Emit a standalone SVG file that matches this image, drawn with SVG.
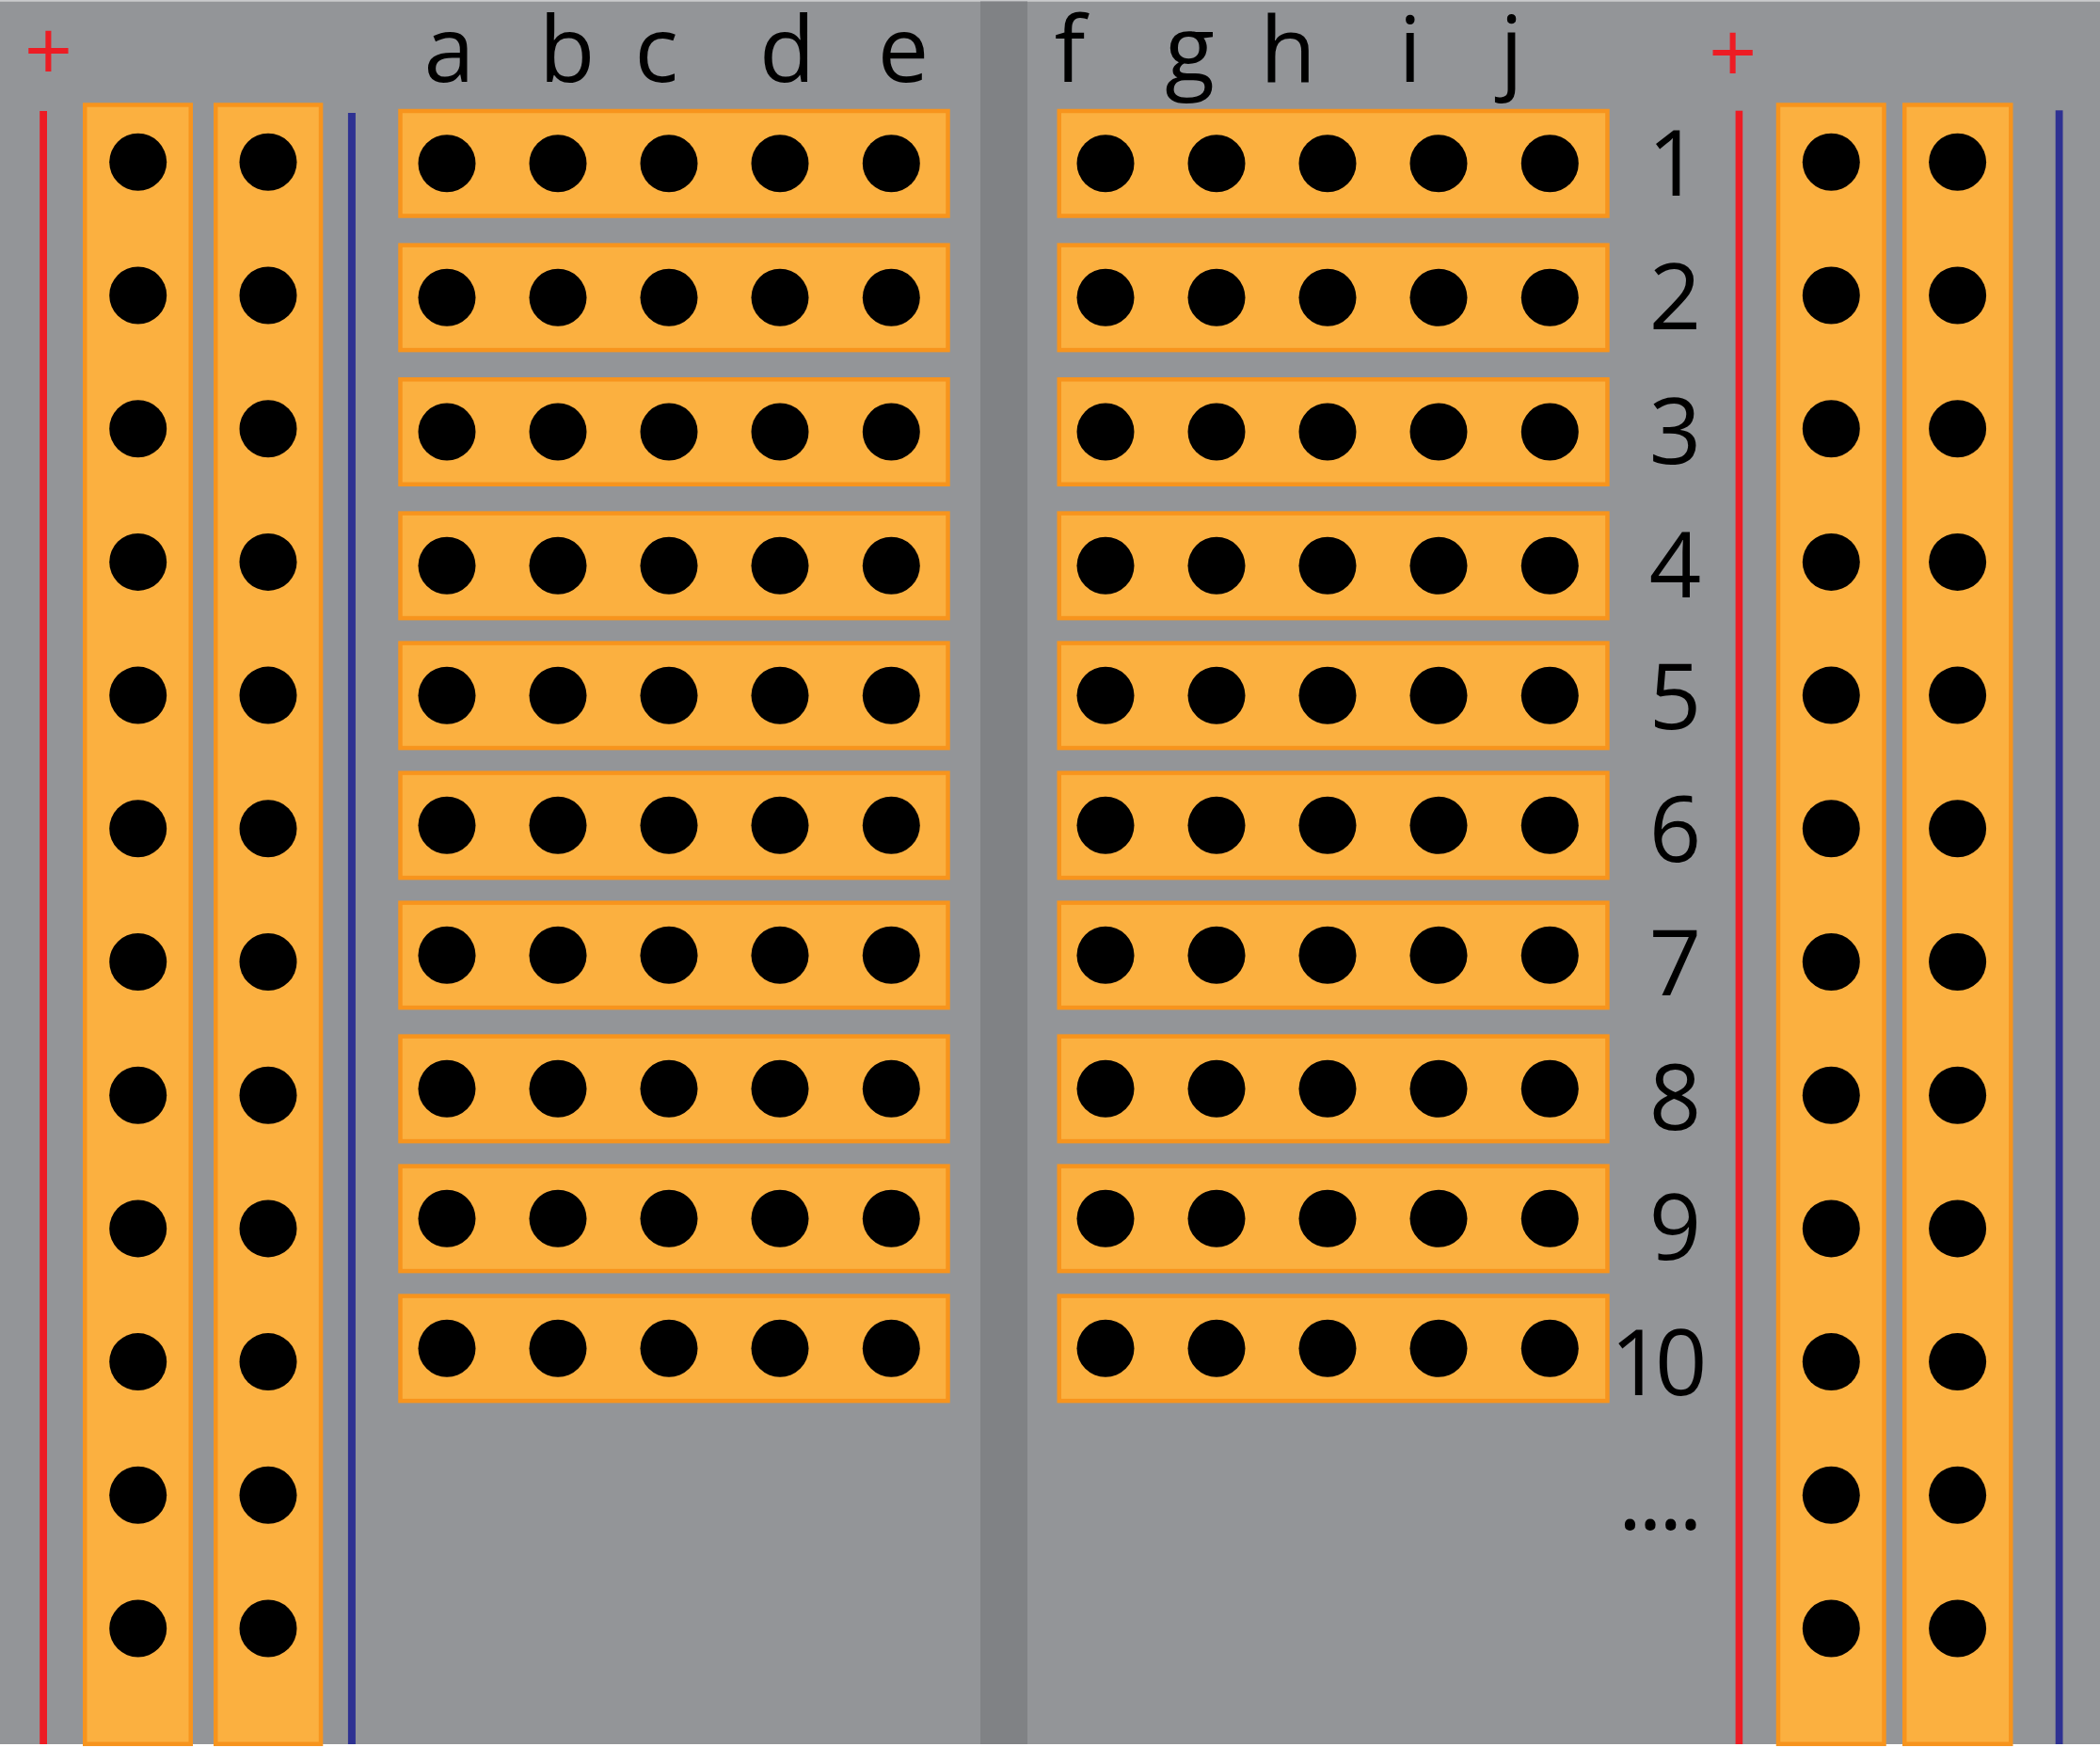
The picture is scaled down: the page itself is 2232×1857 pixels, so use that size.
<svg xmlns="http://www.w3.org/2000/svg" xmlns:xlink="http://www.w3.org/1999/xlink" width="2232" height="1857" viewBox="0 0 2232 1857">
<style>
.strip{fill:#FBB040;stroke:#F7941D;stroke-width:4.5}
.hole{fill:#000}
.lbl{font-family:"Open Sans","Noto Sans","Liberation Sans",sans-serif;font-size:97px;fill:#000;text-anchor:middle}
.plus{font-family:"Open Sans","Noto Sans","Liberation Sans",sans-serif;font-size:90px;fill:#ED1C24;text-anchor:middle}
</style>
<defs>
<circle id="h" r="30.5" class="hole"/>
<g id="row5">
<use xlink:href="#h" x="0"/><use xlink:href="#h" x="118"/><use xlink:href="#h" x="236"/><use xlink:href="#h" x="354"/><use xlink:href="#h" x="472.3"/>
</g>
<g id="railholes">
<use xlink:href="#h" y="172.3"/><use xlink:href="#h" y="314"/><use xlink:href="#h" y="455.7"/><use xlink:href="#h" y="597.4"/><use xlink:href="#h" y="739.1"/><use xlink:href="#h" y="880.8"/><use xlink:href="#h" y="1022.5"/><use xlink:href="#h" y="1164.2"/><use xlink:href="#h" y="1305.9"/><use xlink:href="#h" y="1447.6"/><use xlink:href="#h" y="1589.3"/><use xlink:href="#h" y="1731"/>
</g>
</defs>
<rect x="0" y="0" width="2232" height="1857" fill="#ffffff"/>
<rect x="0" y="0" width="2232" height="1.5" fill="#c9cacc"/>
<rect x="0" y="1.5" width="2232" height="1852.5" fill="#939598"/>
<rect id="center-channel" x="1042" y="1.5" width="50" height="1852.5" fill="#808285"/>

<g id="power-rail-left">
<rect x="42.2" y="118" width="7.8" height="1736" fill="#ED1C24"/>
<rect x="369.9" y="120" width="8" height="1734" fill="#2E3192"/>
<text class="plus" x="51.5" y="86">+</text>
<rect class="strip" x="90.25" y="111.5" width="112.5" height="1742.3"/>
<rect class="strip" x="229.25" y="111.5" width="111.8" height="1742.3"/>
<use xlink:href="#railholes" x="146.7"/>
<use xlink:href="#railholes" x="285"/>
</g>

<g id="power-rail-right">
<rect x="1844.6" y="117.7" width="7.6" height="1736.3" fill="#ED1C24"/>
<rect x="2184.7" y="117.3" width="7.8" height="1736.7" fill="#2E3192"/>
<text class="plus" x="1841.8" y="88">+</text>
<rect class="strip" x="1890" y="111.5" width="112.5" height="1742.3"/>
<rect class="strip" x="2024.25" y="111.5" width="113" height="1742.3"/>
<use xlink:href="#railholes" x="1946.3"/>
<use xlink:href="#railholes" x="2080.6"/>
</g>

<g id="column-labels">
<text class="lbl" x="477.5" y="87.3">a</text>
<text class="lbl" x="602.7" y="87.3">b</text>
<text class="lbl" x="697.8" y="87.3">c</text>
<text class="lbl" x="836.6" y="87.3">d</text>
<text class="lbl" x="960" y="87.3">e</text>
<text class="lbl" x="1137" y="87.3">f</text>
<text class="lbl" x="1264.5" y="87.3">g</text>
<text class="lbl" x="1369" y="87.3">h</text>
<text class="lbl" x="1498.7" y="87.3">i</text>
<text class="lbl" x="1606.6" y="87.3">j</text>
</g>

<g id="rows-left">
<g id="row1-left"><rect class="strip" x="425.5" y="118" width="582" height="111.5"/><use xlink:href="#row5" x="475" y="173.7"/></g>
<g id="row2-left"><rect class="strip" x="425.5" y="260.6" width="582" height="111.5"/><use xlink:href="#row5" x="475" y="316.3"/></g>
<g id="row3-left"><rect class="strip" x="425.5" y="403.3" width="582" height="111.5"/><use xlink:href="#row5" x="475" y="459"/></g>
<g id="row4-left"><rect class="strip" x="425.5" y="545.6" width="582" height="111.5"/><use xlink:href="#row5" x="475" y="601.3"/></g>
<g id="row5-left"><rect class="strip" x="425.5" y="683.6" width="582" height="111.5"/><use xlink:href="#row5" x="475" y="739.3"/></g>
<g id="row6-left"><rect class="strip" x="425.5" y="821.6" width="582" height="111.5"/><use xlink:href="#row5" x="475" y="877.3"/></g>
<g id="row7-left"><rect class="strip" x="425.5" y="959.6" width="582" height="111.5"/><use xlink:href="#row5" x="475" y="1015.3"/></g>
<g id="row8-left"><rect class="strip" x="425.5" y="1101.6" width="582" height="111.5"/><use xlink:href="#row5" x="475" y="1157.3"/></g>
<g id="row9-left"><rect class="strip" x="425.5" y="1239.6" width="582" height="111.5"/><use xlink:href="#row5" x="475" y="1295.3"/></g>
<g id="row10-left"><rect class="strip" x="425.5" y="1377.6" width="582" height="111.5"/><use xlink:href="#row5" x="475" y="1433.3"/></g>
</g>

<g id="rows-right">
<g id="row1-right"><rect class="strip" x="1125.75" y="118" width="582.7" height="111.5"/><use xlink:href="#row5" x="1175" y="173.7"/></g>
<g id="row2-right"><rect class="strip" x="1125.75" y="260.6" width="582.7" height="111.5"/><use xlink:href="#row5" x="1175" y="316.3"/></g>
<g id="row3-right"><rect class="strip" x="1125.75" y="403.3" width="582.7" height="111.5"/><use xlink:href="#row5" x="1175" y="459"/></g>
<g id="row4-right"><rect class="strip" x="1125.75" y="545.6" width="582.7" height="111.5"/><use xlink:href="#row5" x="1175" y="601.3"/></g>
<g id="row5-right"><rect class="strip" x="1125.75" y="683.6" width="582.7" height="111.5"/><use xlink:href="#row5" x="1175" y="739.3"/></g>
<g id="row6-right"><rect class="strip" x="1125.75" y="821.6" width="582.7" height="111.5"/><use xlink:href="#row5" x="1175" y="877.3"/></g>
<g id="row7-right"><rect class="strip" x="1125.75" y="959.6" width="582.7" height="111.5"/><use xlink:href="#row5" x="1175" y="1015.3"/></g>
<g id="row8-right"><rect class="strip" x="1125.75" y="1101.6" width="582.7" height="111.5"/><use xlink:href="#row5" x="1175" y="1157.3"/></g>
<g id="row9-right"><rect class="strip" x="1125.75" y="1239.6" width="582.7" height="111.5"/><use xlink:href="#row5" x="1175" y="1295.3"/></g>
<g id="row10-right"><rect class="strip" x="1125.75" y="1377.6" width="582.7" height="111.5"/><use xlink:href="#row5" x="1175" y="1433.3"/></g>
</g>

<g id="row-labels">
<text class="lbl" x="1779" y="208">1</text>
<text class="lbl" x="1780.5" y="350">2</text>
<text class="lbl" x="1780.5" y="492.7">3</text>
<text class="lbl" x="1780.5" y="635">4</text>
<text class="lbl" x="1780.5" y="775">5</text>
<text class="lbl" x="1780.5" y="916">6</text>
<text class="lbl" x="1780.5" y="1058">7</text>
<text class="lbl" x="1780.5" y="1201">8</text>
<text class="lbl" x="1780.5" y="1339">9</text>
<text class="lbl" x="1759" y="1483.3" letter-spacing="-8">10</text>
<text class="lbl" x="1732.6 1754 1775.7 1796.9" y="1626">....</text>
</g>
</svg>
